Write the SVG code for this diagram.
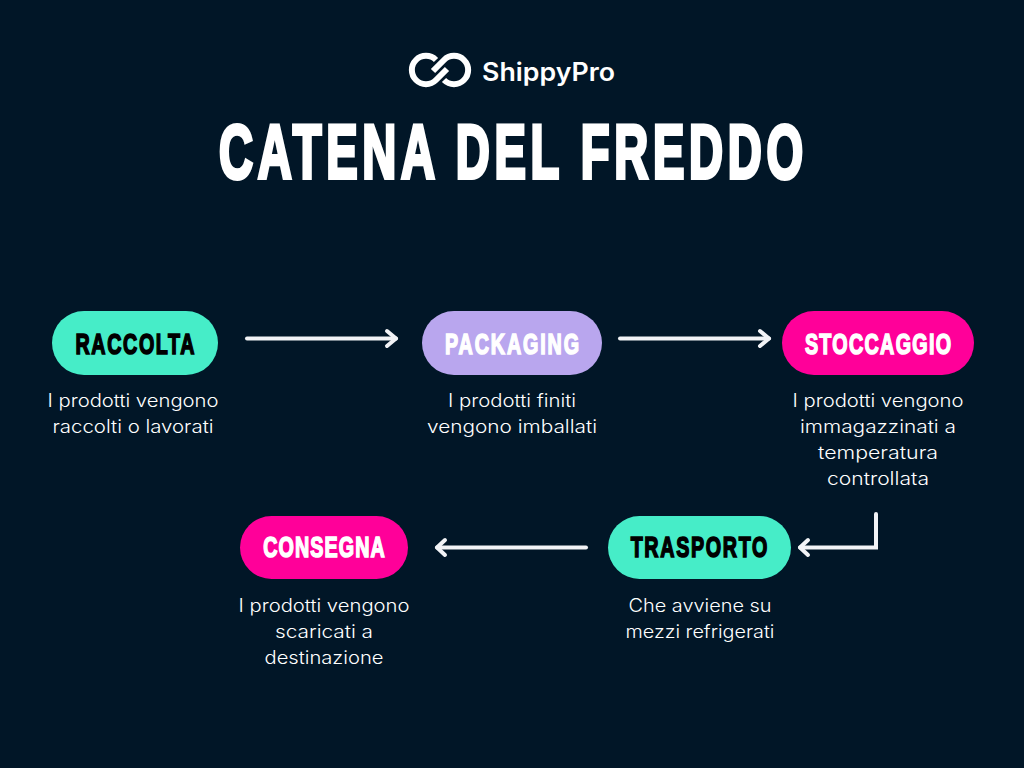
<svg xmlns="http://www.w3.org/2000/svg" width="1024" height="768" viewBox="0 0 1024 768">
<style>
.title{font-family:"Liberation Sans",sans-serif;font-weight:700;font-size:76px;fill:#fff;stroke:#fff;stroke-width:4px;stroke-linejoin:miter}
.brand{font-family:"Inter","Noto Sans",sans-serif;font-weight:600;font-size:25px;fill:#fff}
.lab{font-family:"Liberation Sans",sans-serif;font-weight:700;font-size:29px;text-anchor:middle;stroke-width:1.600px}
.dark{fill:#000;stroke:#000}
.light{fill:#fff;stroke:#fff}
.desc{font-family:"Inter","Noto Sans",sans-serif;font-weight:300;font-size:18px;fill:#fff;text-anchor:middle}
.conn{fill:none;stroke:#f2f3f6;stroke-width:4;stroke-linecap:round;stroke-linejoin:miter}
.head{fill:none;stroke:#f2f3f6;stroke-width:4;stroke-linecap:round;stroke-linejoin:round}
.logo{fill:none;stroke:#fff;stroke-width:6}
</style>
<rect width="1024" height="768" fill="#011627"/>
<g id="logo">
<path class="logo" d="M436 60A14.140 14.140 0 1 0 436 80L447 69"/>
<path class="logo" d="M444 80A14.140 14.140 0 1 0 444 60L433 71"/>
<text class="brand" x="482" y="81" textLength="133" lengthAdjust="spacingAndGlyphs">ShippyPro</text>
</g>
<text id="title" class="title" transform="translate(219 178) scale(.62 1)" textLength="942" lengthAdjust="spacing">CATENA DEL FREDDO</text>
<g id="connectors">
<path class="conn" d="M247 338.500H396"/><path class="head" d="M387 331L396 338.500L387 346"/>
<path class="conn" d="M620 338.500H769"/><path class="head" d="M760 331L769 338.500L760 346"/>
<path class="conn" d="M876 514V547.500H800"/><path class="head" d="M808 540L800 547.500L808 555"/>
<path class="conn" d="M586 547.500H437"/><path class="head" d="M445 540L437 547.500L445 555"/>
</g>
<g id="raccolta">
<rect x="52" y="311" width="166" height="64" rx="32" fill="#46edc8"/>
<text class="lab dark" transform="translate(135 354.200) scale(.68 1)" textLength="175" lengthAdjust="spacing">RACCOLTA</text>
<text class="desc" x="133" y="407" textLength="171" lengthAdjust="spacingAndGlyphs">I prodotti vengono</text>
<text class="desc" x="133" y="433" textLength="161" lengthAdjust="spacingAndGlyphs">raccolti o lavorati</text>
</g>
<g id="packaging">
<rect x="422" y="311" width="180" height="64" rx="32" fill="#b9a6ee"/>
<text class="lab light" transform="translate(512 354.200) scale(.68 1)" textLength="197" lengthAdjust="spacing">PACKAGING</text>
<text class="desc" x="512" y="407" textLength="128" lengthAdjust="spacingAndGlyphs">I prodotti finiti</text>
<text class="desc" x="512" y="433" textLength="170" lengthAdjust="spacingAndGlyphs">vengono imballati</text>
</g>
<g id="stoccaggio">
<rect x="782" y="311" width="192" height="64" rx="32" fill="#ff0099"/>
<text class="lab light" transform="translate(878 354.200) scale(.68 1)" textLength="215" lengthAdjust="spacing">STOCCAGGIO</text>
<text class="desc" x="878" y="407" textLength="171" lengthAdjust="spacingAndGlyphs">I prodotti vengono</text>
<text class="desc" x="878" y="433" textLength="156" lengthAdjust="spacingAndGlyphs">immagazzinati a</text>
<text class="desc" x="878" y="459" textLength="120" lengthAdjust="spacingAndGlyphs">temperatura</text>
<text class="desc" x="878" y="485" textLength="102" lengthAdjust="spacingAndGlyphs">controllata</text>
</g>
<g id="trasporto">
<rect x="608" y="516" width="183" height="63" rx="31.500" fill="#46edc8"/>
<text class="lab dark" transform="translate(699 557.200) scale(.68 1)" textLength="201" lengthAdjust="spacing">TRASPORTO</text>
<text class="desc" x="700" y="612" textLength="143" lengthAdjust="spacingAndGlyphs">Che avviene su</text>
<text class="desc" x="700" y="638" textLength="149" lengthAdjust="spacingAndGlyphs">mezzi refrigerati</text>
</g>
<g id="consegna">
<rect x="240" y="516" width="168" height="63" rx="31.500" fill="#ff0099"/>
<text class="lab light" transform="translate(324 557.200) scale(.68 1)" textLength="179" lengthAdjust="spacing">CONSEGNA</text>
<text class="desc" x="324" y="612" textLength="171" lengthAdjust="spacingAndGlyphs">I prodotti vengono</text>
<text class="desc" x="324" y="638" textLength="98" lengthAdjust="spacingAndGlyphs">scaricati a</text>
<text class="desc" x="324" y="664" textLength="119" lengthAdjust="spacingAndGlyphs">destinazione</text>
</g>
</svg>
